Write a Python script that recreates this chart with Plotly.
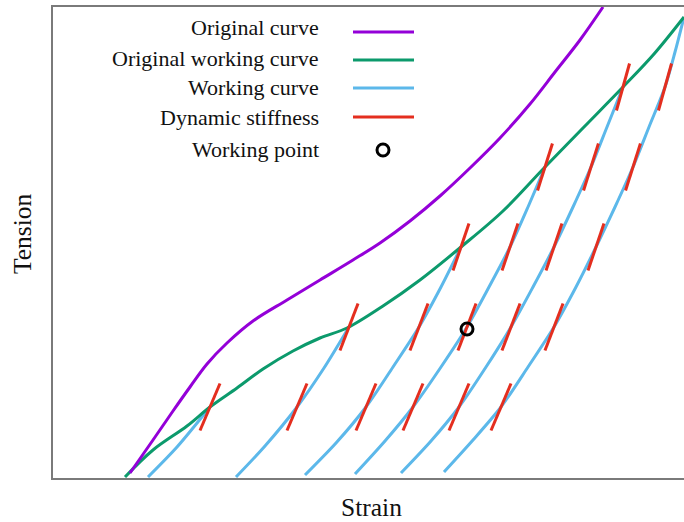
import plotly.graph_objects as go

# ---- data (arbitrary units) ----
orig_strain = [77, 100, 120, 137, 154, 174, 200, 234, 267, 300, 327, 357, 387, 417, 447, 477, 502, 527, 550]
orig_tension = [5, 38, 67, 91, 114, 135, 157, 178, 198, 218, 235, 257, 282, 310, 340, 374, 406, 438, 471]

owc_strain = [72, 100, 134, 157, 184, 210, 240, 267, 294, 330, 367, 408, 450, 492, 530, 570, 601, 631]
owc_tension = [1, 28, 52, 71, 90, 109, 127, 140, 150, 172, 198, 231, 267, 311, 350, 391, 424, 461]

wc_strain = [
    [95, 124, 157],
    [183, 212, 244, 271, 296],
    [252, 283, 313, 340, 366, 388, 408],
    [302, 332, 360, 388, 414, 436, 457, 475, 492],
    [348, 378, 406, 433, 458, 480, 501, 520, 538, 554, 570],
    [391, 420, 448, 475, 501, 523, 543, 562, 580, 596, 612, 622, 631],
]
wc_tension = [
    [1, 31, 71],
    [1, 32, 71, 110, 151],
    [3, 35, 71, 111, 151, 191, 231],
    [4, 37, 71, 111, 151, 191, 231, 271, 311],
    [5, 37, 71, 111, 151, 191, 231, 271, 311, 351, 391],
    [6, 38, 71, 111, 151, 191, 231, 271, 311, 351, 391, 426, 461],
]

# dynamic stiffness tangent segments: tension level per row, strain centres, slope
ds_tension = [71, 151, 231, 311, 391]
ds_strain = [
    [157, 244, 313, 360, 406, 448],
    [296, 366, 414, 458, 501],
    [408, 457, 501, 543],
    [492, 538, 580],
    [570, 612],
]
ds_slope = [2.35, 2.6, 2.95, 3.15, 3.6]
ds_half_height = 23.5

wp_strain = [414]
wp_tension = [149]

legend_labels = ["Original curve", "Original working curve", "Working curve",
                 "Dynamic stiffness", "Working point"]

PURPLE = "#9400D8"
GREEN = "#0C9A6C"
BLUE = "#5CB8EA"
RED = "#E42E1F"

fig = go.Figure()

for xs, ys in zip(wc_strain, wc_tension):
    fig.add_trace(go.Scatter(x=xs, y=ys, mode="lines",
                             line=dict(color=BLUE, width=3, shape="spline", smoothing=0.8),
                             showlegend=False, hoverinfo="skip"))

fig.add_trace(go.Scatter(x=owc_strain, y=owc_tension, mode="lines",
                         line=dict(color=GREEN, width=3, shape="spline", smoothing=1), showlegend=False))
fig.add_trace(go.Scatter(x=orig_strain, y=orig_tension, mode="lines",
                         line=dict(color=PURPLE, width=3, shape="spline", smoothing=1), showlegend=False))

for t, row, k in zip(ds_tension, ds_strain, ds_slope):
    dx = ds_half_height / k
    for s in row:
        fig.add_trace(go.Scatter(x=[s - dx, s + dx], y=[t - ds_half_height, t + ds_half_height],
                                 mode="lines", line=dict(color=RED, width=3),
                                 showlegend=False, hoverinfo="skip"))

fig.add_trace(go.Scatter(x=wp_strain, y=wp_tension, mode="markers",
                         marker=dict(symbol="circle-open", size=12, color="black", line=dict(width=3)),
                         showlegend=False))

# ---- layout ----
W, H = 684, 522
L, R, T, B = 53, 0, 7, 44
pw, ph = W - L - R, H - T - B

def px(xp):
    return (xp - L) / pw

def py(yp):
    return (H - B - yp) / ph

FONT = "Liberation Serif, Times New Roman, serif"

annotations = []
legend_y = [28, 59, 88, 118, 149]
for lab, yy in zip(legend_labels, legend_y):
    annotations.append(dict(text=lab, xref="paper", yref="paper", x=px(321), y=py(yy),
                            xanchor="right", yanchor="middle", showarrow=False,
                            font=dict(family=FONT, size=22, color="#111")))
annotations.append(dict(text="Strain", xref="paper", yref="paper", x=px(372), y=py(507),
                        xanchor="center", yanchor="middle", showarrow=False,
                        font=dict(family=FONT, size=25.5, color="#111")))
annotations.append(dict(text="Tension", xref="paper", yref="paper", x=px(22), y=py(234),
                        xanchor="center", yanchor="middle", showarrow=False, textangle=-90,
                        font=dict(family=FONT, size=25.5, color="#111")))

shapes = []
line_y = [32, 60, 88, 117]
for c, yy in zip([PURPLE, GREEN, BLUE, RED], line_y):
    shapes.append(dict(type="line", xref="paper", yref="paper", x0=px(353), x1=px(414),
                       y0=py(yy), y1=py(yy), line=dict(color=c, width=3)))
shapes.append(dict(type="circle", xref="paper", yref="paper", xsizemode="pixel", ysizemode="pixel",
                   xanchor=px(383), yanchor=py(150), x0=-6, x1=6, y0=-6, y1=6,
                   line=dict(color="black", width=3)))

fig.update_layout(
    width=W, height=H,
    margin=dict(l=L, r=R, t=T, b=B),
    plot_bgcolor="white", paper_bgcolor="white",
    showlegend=False,
    annotations=annotations, shapes=shapes,
    xaxis=dict(range=[0, pw], showgrid=False, zeroline=False, showticklabels=False, ticks="",
               showline=True, linecolor="#7a7a7a", linewidth=2, mirror=True),
    yaxis=dict(range=[0, ph], showgrid=False, zeroline=False, showticklabels=False, ticks="",
               showline=True, linecolor="#7a7a7a", linewidth=2),
)

fig.write_html("out.html")
